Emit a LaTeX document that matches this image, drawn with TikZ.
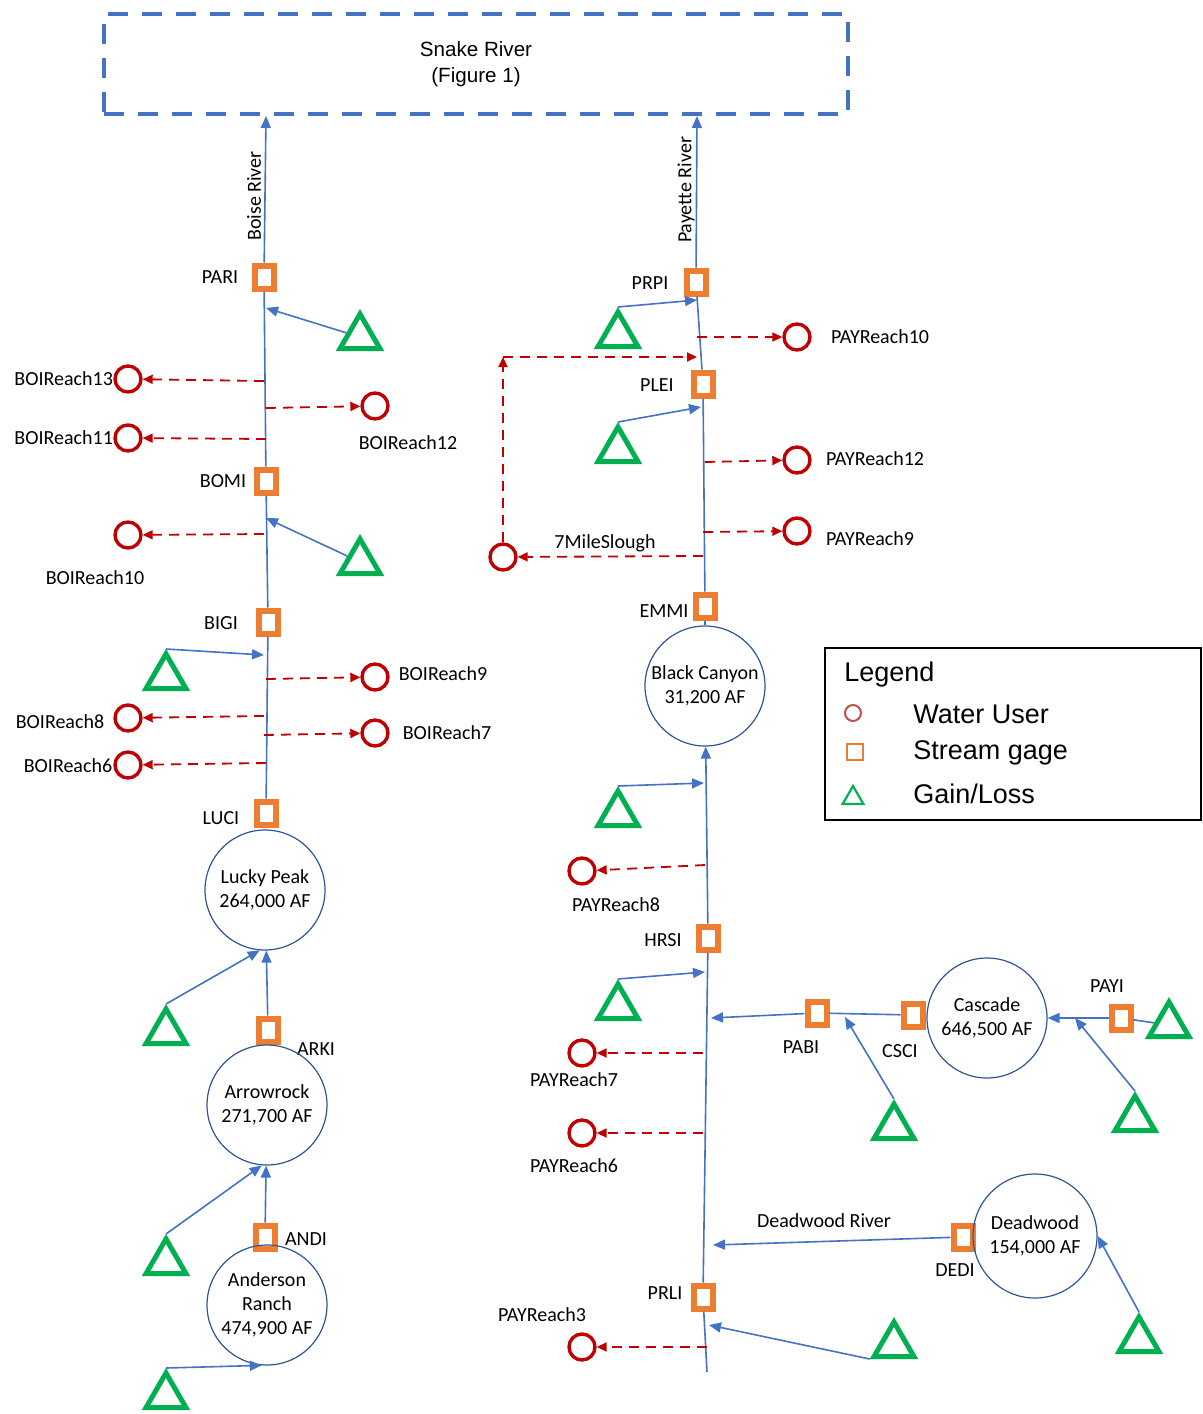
\documentclass[tikz,border=0pt]{standalone}
\usepackage{fontspec}
\setmainfont{Carlito}
\newfontfamily\arialfont{Liberation Sans}
\usetikzlibrary{shapes.geometric,arrows.meta,positioning}
\definecolor{fblue}{RGB}{68,114,196}
\definecolor{rblue}{RGB}{47,85,151}
\definecolor{gorange}{RGB}{237,125,49}
\definecolor{ured}{RGB}{192,0,0}
\definecolor{lred}{RGB}{192,80,77}
\definecolor{ggreen}{RGB}{0,176,80}
\begin{document}
\begin{tikzpicture}
[x=0.5pt,y=-0.5pt,every node/.style={font=\fontsize{10}{12}\selectfont,inner sep=0pt,align=center},
gage/.style={rectangle,draw=gorange,line width=3pt,fill=white,minimum width=9.5pt,minimum height=11.5pt},
user/.style={circle,draw=ured,line width=1.7pt,fill=white,minimum size=13pt},
gain/.style={regular polygon,regular polygon sides=3,draw=ggreen,line width=2.5pt,minimum size=23pt},
res/.style={circle,draw=rblue,line width=0.6pt,minimum size=60pt},
flow/.style={draw=fblue,line width=0.8pt,-{Triangle[length=6pt,width=5pt]}},
plain/.style={draw=fblue,line width=0.8pt},
take/.style={draw=ured,line width=0.9pt,dash pattern=on 5pt off 3.5pt,-{Triangle[length=5pt,width=4.5pt]}},
legtext/.style={anchor=west,font=\arialfont\fontsize{13.5}{16}\selectfont}]
\useasboundingbox (0,0) rectangle (1203,1414);
% Snake River
\node[draw=fblue,line width=2pt,dash pattern=on 10pt off 7pt,minimum width=372pt,minimum height=50pt,
	font=\arialfont\fontsize{10.3}{13}\selectfont] (snake) at (476,64) {Snake River\\(Figure 1)};
\coordinate (boitop) at (266,116);
\coordinate (paytop) at (697,116);

% Boise River
\node[gage] (pari) at (264,277) {};
\node[gage] (bomi) at (266,481) {};
\node[gage] (bigi) at (268,622) {};
\node[gage] (luci) at (266,813) {};
\node[gage] (arki) at (268,1030) {};
\node[gage] (andi) at (265,1237) {};
\node (pari-l) at (220,277) {PARI};
\node (bomi-l) at (223,481) {BOMI};
\node (bigi-l) at (221,623) {BIGI};
\node (luci-l) at (221,818) {LUCI};
\node (arki-l) at (316,1049) {ARKI};
\node (andi-l) at (306,1239) {ANDI};
\node[rotate=90] (boise-l) at (254,196) {Boise River};
\node[res] (lucky) at (265,890) {Lucky Peak\\264,000 AF};
\node[res] (arrowr) at (267,1105) {Arrowrock\\271,700 AF};
\node[res] (ander) at (267,1305) {Anderson\\Ranch\\474,900 AF};
\node[gain] (tb1) at (360,337) {};
\node[gain] (tb2) at (360,562) {};
\node[gain] (tb3) at (166,677) {};
\node[gain] (tb4) at (166,1032) {};
\node[gain] (tb5) at (166,1262) {};
\node[gain] (tb6) at (166,1396) {};
\node[user] (boi13) at (128,379) {};
\node[user] (boi12) at (375,406) {};
\node[user] (boi11) at (128,438) {};
\node[user] (boi10) at (128,535) {};
\node[user] (boi9) at (375,677) {};
\node[user] (boi8) at (128,718) {};
\node[user] (boi7) at (375,733) {};
\node[user] (boi6) at (128,765) {};
\node[left=0pt of boi13] (boi13-l) {BOIReach13};
\node (boi12-l) at (408,443) {BOIReach12};
\node[left=0pt of boi11] (boi11-l) {BOIReach11};
\node (boi10-l) at (95,578) {BOIReach10};
\node (boi9-l) at (443,674) {BOIReach9};
\node (boi8-l) at (60,722) {BOIReach8};
\node (boi7-l) at (447,733) {BOIReach7};
\node (boi6-l) at (68,766) {BOIReach6};
\draw[flow] (luci) -- (bigi) -- (bomi) -- (pari) -- (boitop);
\draw[flow] (arki) -- (lucky);
\draw[flow] (andi) -- (arrowr);
\draw[flow] (tb1) -- (266,308);
\draw[flow] (tb2) -- (266,518);
\draw[flow] (tb3.corner 1) -- (264,655);
\draw[flow] (tb4.corner 1) -- (lucky.265);
\draw[flow] (tb5.corner 1) -- (arrowr.265);
\draw[flow] (tb6.corner 1) -- (ander.265);
\draw[take] (264,381) -- (boi13);
\draw[take] (266,408) -- (boi12);
\draw[take] (266,439) -- (boi11);
\draw[take] (264,534) -- (boi10);
\draw[take] (266,679) -- (boi9);
\draw[take] (264,716) -- (boi8);
\draw[take] (264,735) -- (boi7);
\draw[take] (266,763) -- (boi6);

% Payette River
\node[gage] (prpi) at (696,282) {};
\node[gage] (plei) at (703,384) {};
\node[gage] (emmi) at (705,606) {};
\node[gage] (hrsi) at (708,938) {};
\node[gage] (prli) at (703,1297) {};
\node[gage] (pabi) at (817,1013) {};
\node[gage] (csci) at (913,1015) {};
\node[gage] (payi) at (1121,1018) {};
\node[gage] (dedi) at (963,1237) {};
\node (prpi-l) at (650,283) {PRPI};
\node (plei-l) at (657,385) {PLEI};
\node (emmi-l) at (664,611) {EMMI};
\node (hrsi-l) at (663,940) {HRSI};
\node (prli-l) at (665,1293) {PRLI};
\node (pabi-l) at (801,1047) {PABI};
\node (csci-l) at (900,1051) {CSCI};
\node (payi-l) at (1107,986) {PAYI};
\node (dedi-l) at (955,1270) {DEDI};
\node[rotate=90] (payette-l) at (686,190) {Payette River};
\node (deadr-l) at (824,1221) {Deadwood River};
\node[res] (blackc) at (705,686) {Black Canyon\\31,200 AF};
\node[res] (casc) at (987,1018) {Cascade\\646,500 AF};
\node[res,minimum size=62pt] (dead) at (1035,1236) {Deadwood\\154,000 AF};
\node[gain] (tp1) at (618,335) {};
\node[gain] (tp2) at (618,450) {};
\node[gain] (tp3) at (618,814) {};
\node[gain] (tp4) at (618,1007) {};
\node[gain] (tp5) at (894,1127) {};
\node[gain] (tp6) at (1169,1025) {};
\node[gain] (tp7) at (1135,1119) {};
\node[gain] (tp8) at (894,1345) {};
\node[gain] (tp9) at (1139,1340) {};
\node[user] (pay10) at (797,337) {};
\node[user] (pay12) at (797,460) {};
\node[user] (pay9) at (797,531) {};
\node[user] (slough) at (503,557) {};
\node[user] (pay8) at (582,871) {};
\node[user] (pay7) at (582,1053) {};
\node[user] (pay6) at (582,1133) {};
\node[user] (pay3) at (582,1347) {};
\node (pay10-l) at (880,337) {PAYReach10};
\node (pay12-l) at (875,459) {PAYReach12};
\node (pay9-l) at (870,539) {PAYReach9};
\node (slough-l) at (605,543) {7MileSlough};
\node (pay8-l) at (616,905) {PAYReach8};
\node (pay7-l) at (574,1080) {PAYReach7};
\node (pay6-l) at (574,1166) {PAYReach6};
\node (pay3-l) at (542,1315) {PAYReach3};
\coordinate (paybot) at (707,1372);
\coordinate (scorner) at (503,357);
\draw[flow] (paybot) -- (prli) -- (hrsi) -- (blackc);
\draw[plain] (blackc) -- (emmi);
\draw[flow] (emmi) -- (plei) -- (prpi) -- (paytop);
\draw[flow] (tp1.corner 1) -- (697,300);
\draw[flow] (tp2.corner 1) -- (701,407);
\draw[flow] (tp3.corner 1) -- (704,783);
\draw[flow] (tp4.corner 1) -- (705,972);
\draw[plain] (tp6) -- (payi);
\draw[flow] (payi) -- (casc);
\draw[flow] (tp7.corner 1) -- (1075,1018);
\draw[plain] (csci) -- (pabi);
\draw[flow] (pabi) -- (711,1018);
\draw[flow] (tp5.corner 1) -- (845,1017);
\draw[flow] (dedi) -- (713,1245);
\draw[flow] (tp9.corner 1) -- (dead.east);
\draw[flow] (tp8.corner 2) -- (709,1325);
\draw[take] (697,337) -- (pay10);
\draw[take] (705,462) -- (pay12);
\draw[take] (703,532) -- (pay9);
\draw[take] (703,556) -- (slough);
\draw[take] (slough) -- (scorner);
\draw[take] (scorner) -- (697,357);
\draw[take] (705,865) -- (pay8);
\draw[take] (703,1053) -- (pay7);
\draw[take] (703,1133) -- (pay6);
\draw[take] (707,1347) -- (pay3);

% Legend
\node[draw=black,line width=0.8pt,minimum width=188pt,minimum height=86pt] (legend) at (1013,734) {};
\node[legtext] (leg-t) at (844,675) {Legend};
\node[circle,draw=lred,line width=1pt,minimum size=8pt] (leg-user) at (853,713) {};
\node[rectangle,draw=gorange,line width=1.3pt,minimum size=8pt] (leg-gage) at (855,752) {};
\node[regular polygon,regular polygon sides=3,draw=ggreen,line width=1.1pt,minimum size=12pt] (leg-gain) at (853,798) {};
\node[legtext] (leg-user-t) at (913,714) {Water User};
\node[legtext] (leg-gage-t) at (913,753) {Stream gage};
\node[legtext] (leg-gain-t) at (913,794) {Gain/Loss};
\end{tikzpicture}
\end{document}
